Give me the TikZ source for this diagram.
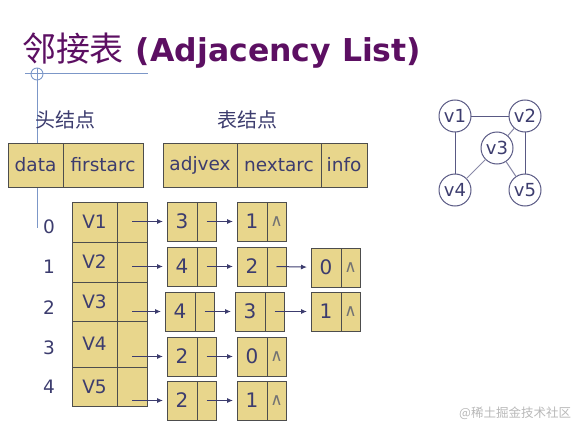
\documentclass[tikz,border=0pt]{standalone}
\usepackage{fontspec}
\setmainfont{DejaVu Sans}
\newfontfamily\cjk{Noto Sans CJK SC}
\usetikzlibrary{positioning, calc, arrows.meta}

\definecolor{cellfill}{HTML}{E8D68C}
\definecolor{cellline}{HTML}{4D4D4D}
\definecolor{ink}{HTML}{3C3C6E}
\definecolor{titlecol}{HTML}{5C0F62}
\definecolor{deco}{HTML}{7C97C8}

\begin{document}
\begin{tikzpicture}[x=1pt, y=-1pt,
      every node/.style={inner sep=0pt, outer sep=0pt},
      cell/.style={draw=cellline, fill=cellfill, line width=1pt, text=ink,
                   font=\fontsize{18.5}{20}\selectfont, align=center},
      field/.style={cell, minimum height=44pt},
      head/.style={cell, minimum width=45pt},
      hptr/.style={cell, minimum width=30pt},
      val/.style={cell, minimum width=30pt, minimum height=39pt, anchor=north west,
                  font=\fontsize{20}{22}\selectfont},
      ptr/.style={cell, minimum width=19pt, minimum height=39pt},
      nil/.style={ptr, font=\fontsize{17}{18}\selectfont, text=black!55},
      idx/.style={text=ink, font=\fontsize{18.5}{20}\selectfont},
      caption/.style={text=ink, font=\cjk\fontsize{20}{22}\selectfont},
      vtx/.style={circle, draw=ink!85, fill=white, line width=1pt, minimum size=32pt,
                  text=ink, font=\fontsize{18}{20}\selectfont},
      edge/.style={draw=ink!85, line width=1pt},
      arrow/.style={-{Latex[length=6pt, width=5pt]}, line width=1pt, draw=ink,
                    shorten >=4pt},
  ]
    \useasboundingbox (0,0) rectangle (584,436);

    %% --- title and guide lines ---
    \node[anchor=base west, text=titlecol] (title) at (22,62)
      {{\cjk\fontsize{34}{36}\selectfont 邻接表}\hspace{12pt}{\fontsize{31.5}{34}\selectfont\bfseries (Adjacency List)}};
    \draw[deco, line width=0.9pt] (25,73) -- (148,73);
    \draw[deco, line width=0.9pt] (37,68) -- (37,228);
    \draw[deco, line width=0.9pt] (37,74) circle (6);

    %% --- node layouts ---
    \node[caption] (hcap) at (65,120) {头结点};
    \node[caption] (acap) at (247,120) {表结点};

    \node[field, minimum width=55pt, anchor=north west] (fdata) at (8,143) {data};
    \node[field, minimum width=80pt, right=0pt of fdata] (ffirst) {firstarc};
    \node[field, minimum width=74pt, anchor=north west] (fadj) at (163,143) {adjvex};
    \node[field, minimum width=84pt, right=0pt of fadj] (fnext) {nextarc};
    \node[field, minimum width=46pt, right=0pt of fnext] (finfo) {info};

    %% --- vertex array ---
    \node[head, minimum height=40pt, anchor=north west] (hd1) at (72,202) {V1};
    \node[head, minimum height=40pt, below=0pt of hd1] (hd2) {V2};
    \node[head, minimum height=39pt, below=0pt of hd2] (hd3) {V3};
    \node[head, minimum height=46pt, below=0pt of hd3] (hd4) {V4};
    \node[head, minimum height=39pt, below=0pt of hd4] (hd5) {V5};
    \node[hptr, minimum height=40pt, right=0pt of hd1] (hp1) {};
    \node[hptr, minimum height=40pt, right=0pt of hd2] (hp2) {};
    \node[hptr, minimum height=39pt, right=0pt of hd3] (hp3) {};
    \node[hptr, minimum height=46pt, right=0pt of hd4] (hp4) {};
    \node[hptr, minimum height=39pt, right=0pt of hd5] (hp5) {};

    \node[idx] (i0) at (49,227) {0};
    \node[idx] (i1) at (49,267) {1};
    \node[idx] (i2) at (49,308) {2};
    \node[idx] (i3) at (49,348) {3};
    \node[idx] (i4) at (49,387) {4};

    %% --- arc lists ---
    \node[val] (a11) at (167,202) {3};
    \node[ptr, right=0pt of a11] (a11p) {};
    \node[val] (a12) at (237,202) {1};
    \node[nil, right=0pt of a12] (a12p) {∧};

    \node[val] (a21) at (167,247) {4};
    \node[ptr, right=0pt of a21] (a21p) {};
    \node[val] (a22) at (237,247) {2};
    \node[ptr, right=0pt of a22] (a22p) {};
    \node[val] (a23) at (311,248) {0};
    \node[nil, right=0pt of a23] (a23p) {∧};

    \node[val] (a31) at (165,292) {4};
    \node[ptr, right=0pt of a31] (a31p) {};
    \node[val] (a32) at (235,292) {3};
    \node[ptr, right=0pt of a32] (a32p) {};
    \node[val] (a33) at (311,292) {1};
    \node[nil, right=0pt of a33] (a33p) {∧};

    \node[val] (a41) at (167,337) {2};
    \node[ptr, right=0pt of a41] (a41p) {};
    \node[val] (a42) at (237,337) {0};
    \node[nil, right=0pt of a42] (a42p) {∧};

    \node[val] (a51) at (167,381) {2};
    \node[ptr, right=0pt of a51] (a51p) {};
    \node[val] (a52) at (237,381) {1};
    \node[nil, right=0pt of a52] (a52p) {∧};

    \draw[arrow] (hp1.center |- a11) -- (a11);
    \draw[arrow] (hp2.center |- a21) -- (a21);
    \draw[arrow] (hp3.center |- a31) -- (a31);
    \draw[arrow] (hp4.center |- a41) -- (a41);
    \draw[arrow] (hp5.center |- a51) -- (a51);

    \draw[arrow] (a11p.center) -- (a12);
    \draw[arrow] (a21p.center) -- (a22);
    \draw[arrow] (a22p.center) -- (a23);
    \draw[arrow] (a31p.center) -- (a32);
    \draw[arrow] (a32p.center) -- (a33);
    \draw[arrow] (a41p.center) -- (a42);
    \draw[arrow] (a51p.center) -- (a52);

    %% --- the graph ---
    \node[vtx] (v1) at (455,116) {v1};
    \node[vtx] (v2) at (525,116) {v2};
    \node[vtx] (v3) at (497,148) {v3};
    \node[vtx] (v4) at (455,190) {v4};
    \node[vtx] (v5) at (525,190) {v5};
    \draw[edge] (v1) -- (v2);
    \draw[edge] (v1) -- (v4);
    \draw[edge] (v2) -- (v5);
    \draw[edge, draw=ink!60] (v2) -- (v3);
    \draw[edge, draw=ink!60] (v3) -- (v4);
    \draw[edge, draw=ink!60] (v3) -- (v5);

    \node[anchor=east, text=black!28, font=\cjk\fontsize{12.5}{14}\selectfont] (mark) at (571,413) {@稀土掘金技术社区};
  \end{tikzpicture}
\end{document}
